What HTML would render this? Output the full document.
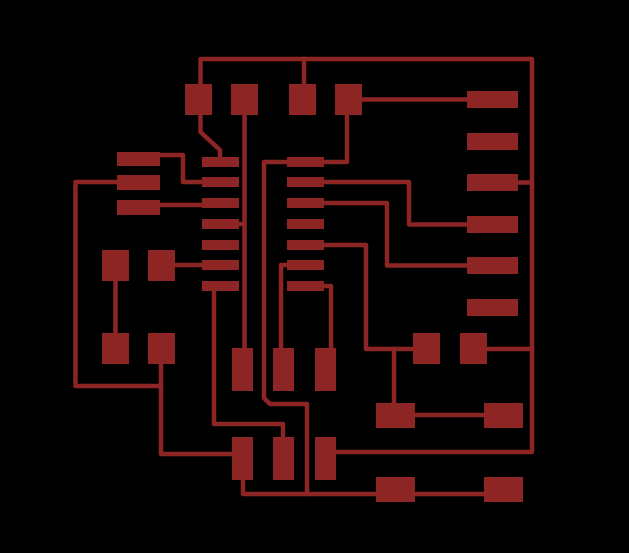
<!DOCTYPE html>
<html><head><meta charset="utf-8"><style>
html,body{margin:0;padding:0;background:#000;}
svg{display:block;}
</style></head><body>
<svg width="629" height="553" viewBox="0 0 629 553" xmlns="http://www.w3.org/2000/svg">
<rect width="629" height="553" fill="#000"/>
<g fill="none" stroke="#8e2525" stroke-width="4.5" stroke-linejoin="round" stroke-linecap="square">
  <!-- top rail & right rail -->
  <polyline points="200.5,99 200.5,59 532,59 532,452 325,452"/>
  <line x1="304" y1="59" x2="304" y2="99"/>
  <!-- pad1 to IC pin1 -->
  <polyline points="200.5,99 200.5,132 220,150 220,162"/>
  <!-- pad2 vertical -->
  <polyline points="244.5,99 244.5,370"/>
  <line x1="239" y1="224" x2="244.5" y2="224"/>
  <!-- pad4 -->
  <line x1="348" y1="99.5" x2="492" y2="99.5"/>
  <polyline points="347,99 347,162 305,162"/>
  <!-- left connector pads -->
  <polyline points="138,155 183,155 183,182 220,182"/>
  <polyline points="138,182 75.5,182 75.5,386 161,386"/>
  <line x1="138" y1="205" x2="220" y2="205"/>
  <!-- square pads -->
  <line x1="115.5" y1="265" x2="115.5" y2="348"/>
  <line x1="161" y1="265" x2="220" y2="265"/>
  <polyline points="161,348 161,454 242,454"/>
  <!-- IC left pin7 -->
  <polyline points="214,286 214,424 283,424 283,458"/>
  <!-- IC right pin1 long trace -->
  <polyline points="305,162 264,162 264,398 270,404 307,404 307,494"/>
  <polyline points="243,458 243,494 503,494"/>
  <!-- right pins -->
  <polyline points="305,182 409,182 409,224.5 492,224.5"/>
  <polyline points="305,203 387,203 387,265.5 492,265.5"/>
  <polyline points="305,245 366,245 366,349 426,349"/>
  <polyline points="290,265 281,265 281,369"/>
  <polyline points="305,286 331,286 331,369"/>
  <line x1="394" y1="349" x2="394" y2="415"/>
  <line x1="395" y1="415" x2="503" y2="415"/>
  <line x1="473" y1="349" x2="532" y2="349"/>
  <line x1="492" y1="182.5" x2="532" y2="182.5"/>
</g>
<g fill="#8e2525">
  <!-- top pads -->
  <rect x="185" y="84" width="27" height="31"/>
  <rect x="231" y="84" width="27" height="31"/>
  <rect x="289" y="84" width="27" height="31"/>
  <rect x="335" y="84" width="27" height="31"/>
  <!-- IC left pins -->
  <rect x="202" y="157" width="37" height="10"/>
  <rect x="202" y="177" width="37" height="10"/>
  <rect x="202" y="198" width="37" height="10"/>
  <rect x="202" y="219" width="37" height="10"/>
  <rect x="202" y="240" width="37" height="10"/>
  <rect x="202" y="260" width="37" height="10"/>
  <rect x="202" y="281" width="37" height="10"/>
  <!-- IC right pins -->
  <rect x="287" y="157" width="37" height="10"/>
  <rect x="287" y="177" width="37" height="10"/>
  <rect x="287" y="198" width="37" height="10"/>
  <rect x="287" y="219" width="37" height="10"/>
  <rect x="287" y="240" width="37" height="10"/>
  <rect x="287" y="260" width="37" height="10"/>
  <rect x="287" y="281" width="37" height="10"/>
  <!-- left connector pads -->
  <rect x="117" y="152" width="43" height="14"/>
  <rect x="117" y="175" width="43" height="15"/>
  <rect x="117" y="200" width="43" height="15"/>
  <!-- square pads -->
  <rect x="102" y="250" width="27" height="31"/>
  <rect x="148" y="250" width="27" height="31"/>
  <rect x="102" y="333" width="27" height="31"/>
  <rect x="148" y="333" width="27" height="31"/>
  <!-- middle tall pads -->
  <rect x="232" y="348" width="21" height="43"/>
  <rect x="273" y="348" width="21" height="43"/>
  <rect x="315" y="348" width="21" height="43"/>
  <rect x="232" y="437" width="21" height="43"/>
  <rect x="273" y="437" width="21" height="43"/>
  <rect x="315" y="437" width="21" height="43"/>
  <!-- right connector pads -->
  <rect x="467" y="91" width="51" height="17"/>
  <rect x="467" y="133" width="51" height="17"/>
  <rect x="467" y="174" width="51" height="17"/>
  <rect x="467" y="216" width="51" height="17"/>
  <rect x="467" y="257" width="51" height="17"/>
  <rect x="467" y="299" width="51" height="17"/>
  <!-- lower right pads -->
  <rect x="413" y="333" width="27" height="31"/>
  <rect x="460" y="333" width="27" height="31"/>
  <rect x="376" y="403" width="39" height="25"/>
  <rect x="484" y="403" width="39" height="25"/>
  <rect x="376" y="477" width="39" height="25"/>
  <rect x="484" y="477" width="39" height="25"/>
</g>
</svg>
</body></html>
